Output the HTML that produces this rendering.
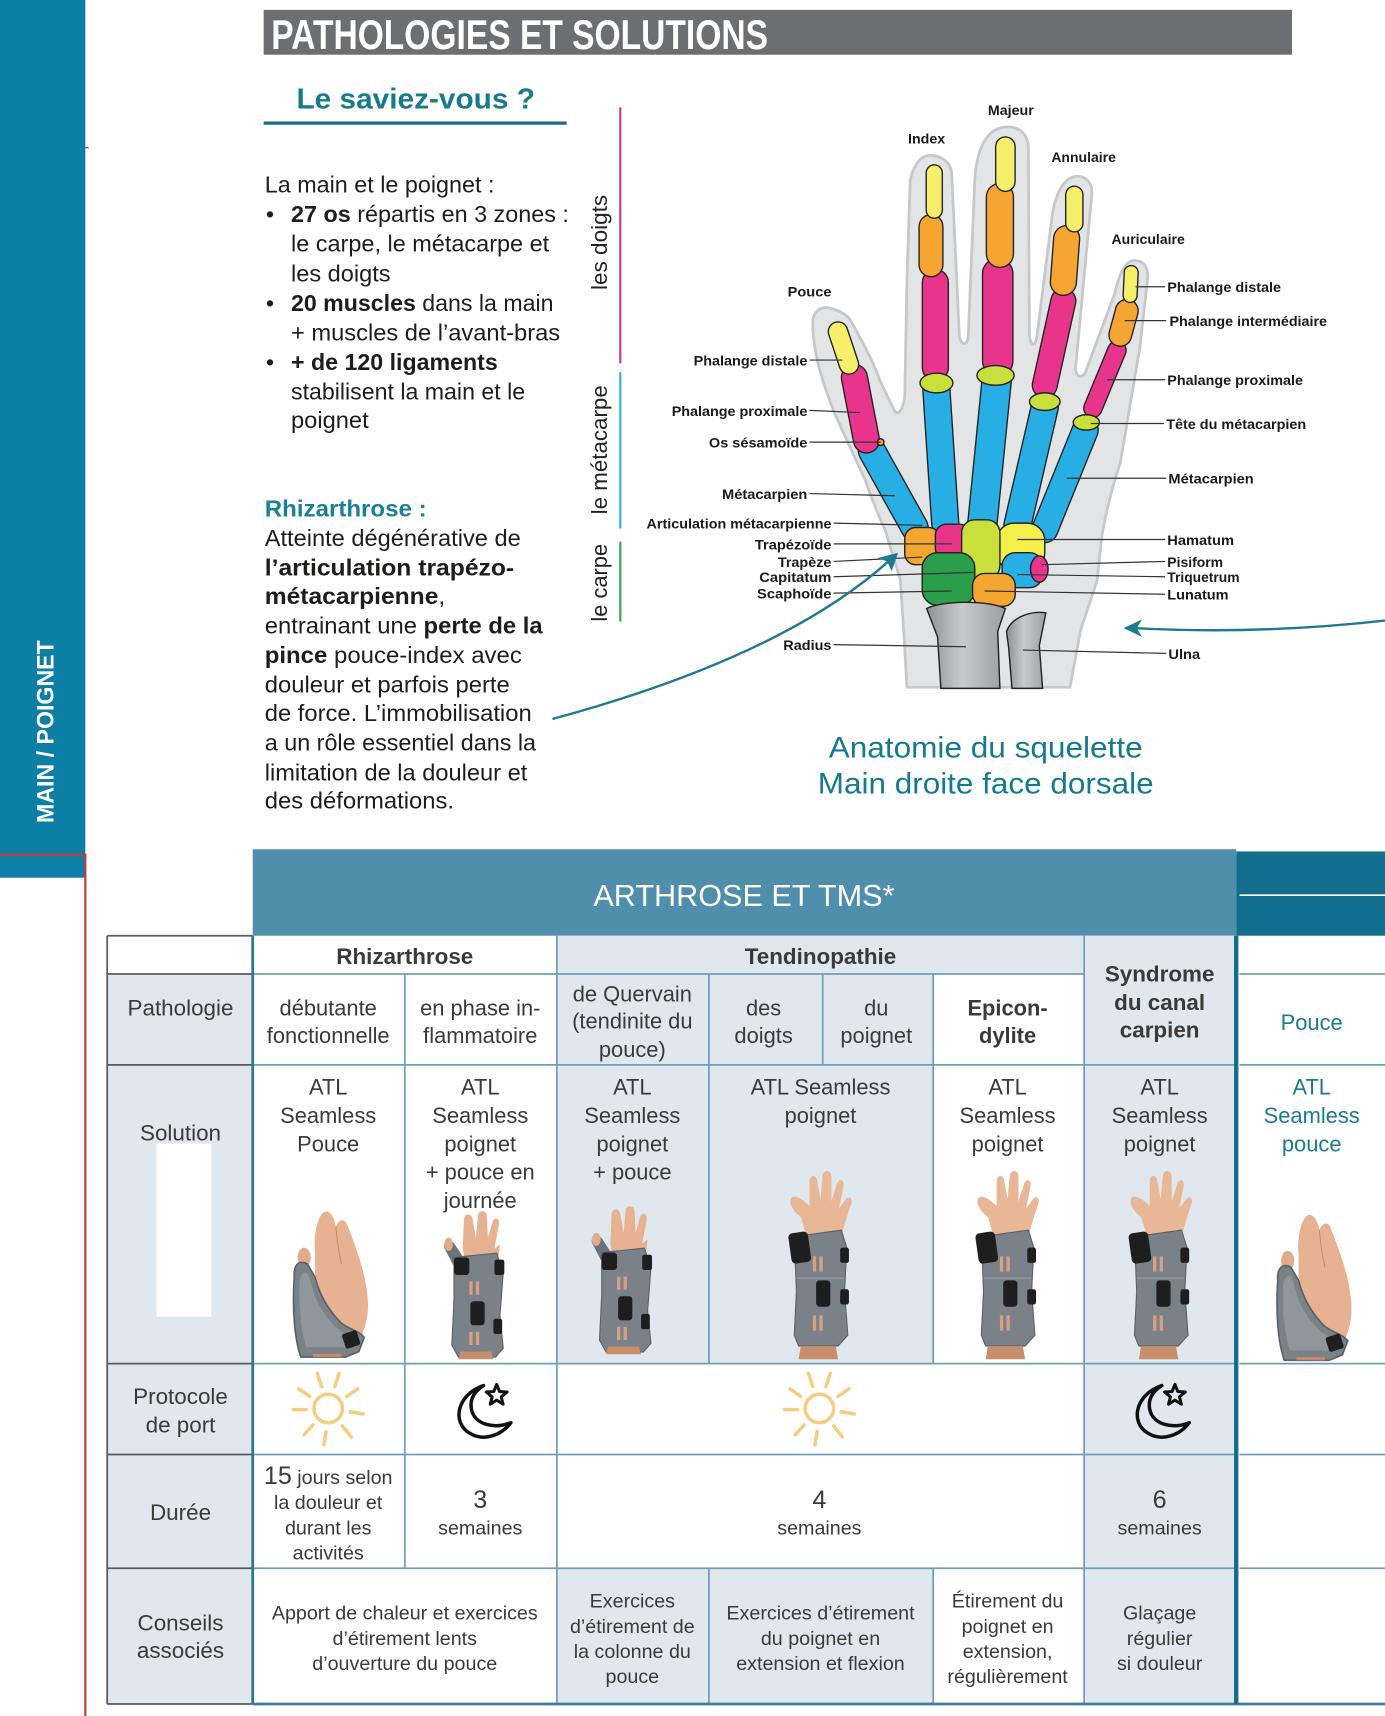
<!DOCTYPE html>
<html><head><meta charset="utf-8"><style>
html,body{margin:0;padding:0;background:#fff;}
svg{display:block;}
</style></head><body>
<svg xmlns="http://www.w3.org/2000/svg" width="1385" height="1716" viewBox="0 0 1266 1568" preserveAspectRatio="none" font-family="'Liberation Sans', Arial, sans-serif">
<defs>
<linearGradient id="bone" x1="0" x2="1" y1="0" y2="0">
<stop offset="0" stop-color="#8d9094"/><stop offset="0.45" stop-color="#c9cacc"/><stop offset="1" stop-color="#9a9da1"/>
</linearGradient>
<symbol id="sun" viewBox="-36 -36 72 72" overflow="visible">
<g stroke="#f5cd82" stroke-width="3.2" stroke-linecap="round" fill="none">
<circle cx="0" cy="0" r="13"/>
<line x1="6" y1="-20" x2="10" y2="-32"/><line x1="-6" y1="-20" x2="-10" y2="-32"/>
<line x1="17" y1="-11" x2="27" y2="-18"/><line x1="-17" y1="-11" x2="-27" y2="-18"/>
<line x1="20" y1="3" x2="32" y2="5"/><line x1="-20" y1="1" x2="-32" y2="1"/>
<line x1="13" y1="16" x2="21" y2="26"/><line x1="-14" y1="15" x2="-22" y2="24"/>
<line x1="-2" y1="21" x2="-4" y2="33"/>
</g>
</symbol>
<symbol id="moon" viewBox="-30 -30 60 60" overflow="visible">
<g stroke="#111" stroke-width="3.2" fill="none" stroke-linejoin="round" stroke-linecap="round">
<path d="M2,-22 C-22,-14 -28,12 -10,22 C2,29 18,24 27,12 C12,18 -6,14 -9,0 C-11,-10 -6,-17 2,-22 Z"/>
<polygon transform="translate(14,-13) scale(1.25)" stroke-width="2.2" points="0,-8 2.06,-2.83 7.61,-2.47 3.33,1.08 4.7,6.47 0,3.5 -4.7,6.47 -3.33,1.08 -7.61,-2.47 -2.06,-2.83"/>
</g>
</symbol>
<symbol id="tb" viewBox="0 0 72 135" overflow="visible">
<path d="M22,40 C20,20 26,2 32,2 C37,2 40,10 41,16 C44,8 50,8 52,16 C60,36 68,58 70,80 C72,100 66,114 60,124 L22,124 Z" fill="#e6b292"/>
<path d="M41,16 C42,30 44,40 46,50" stroke="#c98d6d" stroke-width="1" fill="none"/>
<ellipse cx="12" cy="44" rx="6" ry="9" fill="#e2ab8b"/>
<path d="M3,62 C2,50 8,46 15,50 L22,62 C26,78 34,92 46,104 C54,110 62,111 67,117 L62,130 L50,135 L9,135 C3,118 1,90 3,62 Z" fill="#7a8187" stroke="#596067" stroke-width="1.5"/>
<path d="M8,66 C9,58 13,56 16,60 L19,70 C23,86 32,100 44,110 L56,118 L50,126 L14,126 C9,110 7,90 8,66 Z" fill="#8f969c"/>
<rect x="48" y="112" width="14" height="14" rx="2" fill="#1f1f1f" transform="rotate(-18 55 119)"/>
<rect x="20" y="132" width="26" height="3" fill="#c48a69"/>
</symbol>
<symbol id="wtb" viewBox="0 0 60 135" overflow="visible">
<path d="M18,34 L19,8 C19,1 26,1 27,7 L30,24 L32,3 C33,-2 40,-1 40,4 L41,24 L45,10 C47,4 52,6 51,12 L47,34 L52,30 L50,48 L20,48 Z" fill="#e6b292"/>
<path d="M1,33 C0,26 6,24 10,29 L20,44 L13,56 Z" fill="#6c737a"/>
<ellipse cx="5" cy="30" rx="4" ry="6" fill="#e2ab8b"/>
<path d="M10,42 L49,38 L55,56 L52,95 L55,125 L48,133 L14,133 L8,122 L10,80 Z" fill="#7a8189" stroke="#5a6067" stroke-width="1"/>
<rect x="10" y="42" width="14" height="16" rx="3" fill="#1e1e1e"/>
<rect x="47" y="44" width="9" height="14" rx="2" fill="#1e1e1e"/>
<rect x="24" y="64" width="3" height="12" fill="#d9a07f"/><rect x="30" y="64" width="3" height="12" fill="#d9a07f"/>
<rect x="25" y="82" width="13" height="22" rx="3" fill="#1e1e1e"/>
<rect x="46" y="98" width="8" height="14" rx="2" fill="#1e1e1e"/>
<rect x="24" y="110" width="3" height="12" fill="#d9a07f"/><rect x="30" y="110" width="3" height="12" fill="#d9a07f"/>
<path d="M16,128 L44,128 L46,135 L14,135 Z" fill="#c98f6c"/>
</symbol>
<symbol id="wb" viewBox="0 0 62 172" overflow="visible">
<path d="M20,62 L14,42 C6,36 2,28 6,24 C10,22 16,26 22,32 L22,10 C22,3 28,3 29,9 L32,26 L34,4 C35,-2 42,-1 42,5 L42,28 L47,12 C49,6 54,8 53,14 L49,34 L55,26 C58,22 62,25 60,30 L53,52 L51,66 Z" fill="#e8b796"/>
<path d="M8,60 L51,54 L56,70 L54,110 L57,150 L48,160 L12,160 L8,150 L10,110 Z" fill="#7a8189" stroke="#5a6067" stroke-width="1"/>
<rect x="4" y="56" width="18" height="28" rx="4" fill="#1e1e1e" transform="rotate(-8 13 70)"/>
<rect x="50" y="70" width="8" height="14" rx="2" fill="#1e1e1e"/>
<rect x="25" y="78" width="3" height="14" fill="#d9a07f"/><rect x="31" y="78" width="3" height="14" fill="#d9a07f"/>
<rect x="28" y="100" width="13" height="24" rx="3" fill="#1e1e1e"/>
<rect x="50" y="108" width="8" height="14" rx="2" fill="#1e1e1e"/>
<rect x="25" y="132" width="3" height="14" fill="#d9a07f"/><rect x="31" y="132" width="3" height="14" fill="#d9a07f"/>
<line x1="10" y1="98" x2="54" y2="98" stroke="#8e959c" stroke-width="1.5"/>
<path d="M14,160 L46,160 L48,172 L12,172 Z" fill="#c98f6c"/>
</symbol>
</defs>

<!-- sidebar -->
<rect x="0" y="0" width="78" height="802" fill="#0b7fa6"/>
<path d="M0,781 H78 V1568" stroke="#c43c35" stroke-width="2" fill="none"/>
<line x1="78" y1="135" x2="81" y2="135" stroke="#444" stroke-width="1"/>
<text transform="translate(49,752) rotate(-90)" font-size="22" font-weight="700" fill="#fff" textLength="167" lengthAdjust="spacingAndGlyphs">MAIN / POIGNET</text>

<!-- title -->
<rect x="241" y="9" width="940" height="41" fill="#6d6e71"/>
<text x="248" y="45" font-size="38" font-weight="700" fill="#fff" textLength="454" lengthAdjust="spacingAndGlyphs">PATHOLOGIES ET SOLUTIONS</text>

<text x="271" y="99" font-size="26" font-weight="700" fill="#177a8d" textLength="218" lengthAdjust="spacingAndGlyphs">Le saviez-vous ?</text>
<rect x="241" y="111" width="277" height="3" fill="#1d6f86"/>

<g font-size="21.5" fill="#1d1d1b">
<text x="242" y="176" textLength="210" lengthAdjust="spacingAndGlyphs">La main et le poignet :</text>
<text x="243" y="203">•</text>
<text x="266" y="203" textLength="254" lengthAdjust="spacingAndGlyphs"><tspan font-weight="700">27 os</tspan> répartis en 3 zones :</text>
<text x="266" y="230" textLength="236" lengthAdjust="spacingAndGlyphs">le carpe, le métacarpe et</text>
<text x="266" y="257" textLength="91" lengthAdjust="spacingAndGlyphs">les doigts</text>
<text x="243" y="284">•</text>
<text x="266" y="284" textLength="240" lengthAdjust="spacingAndGlyphs"><tspan font-weight="700">20 muscles</tspan> dans la main</text>
<text x="266" y="311" textLength="246" lengthAdjust="spacingAndGlyphs">+ muscles de l’avant-bras</text>
<text x="243" y="338">•</text>
<text x="266" y="338" font-weight="700" textLength="189" lengthAdjust="spacingAndGlyphs">+ de 120 ligaments</text>
<text x="266" y="365" textLength="214" lengthAdjust="spacingAndGlyphs">stabilisent la main et le</text>
<text x="266" y="391" textLength="71" lengthAdjust="spacingAndGlyphs">poignet</text>

<text x="242" y="472" font-weight="700" fill="#1a7f97" textLength="148" lengthAdjust="spacingAndGlyphs">Rhizarthrose :</text>
<text x="242" y="499" textLength="234" lengthAdjust="spacingAndGlyphs">Atteinte dégénérative de</text>
<text x="242" y="526" font-weight="700" textLength="228" lengthAdjust="spacingAndGlyphs">l’articulation trapézo-</text>
<text x="242" y="552" textLength="165" lengthAdjust="spacingAndGlyphs"><tspan font-weight="700">métacarpienne</tspan>,</text>
<text x="242" y="579" textLength="254" lengthAdjust="spacingAndGlyphs">entrainant une <tspan font-weight="700">perte de la</tspan></text>
<text x="242" y="606" textLength="235" lengthAdjust="spacingAndGlyphs"><tspan font-weight="700">pince</tspan> pouce-index avec</text>
<text x="242" y="633" textLength="224" lengthAdjust="spacingAndGlyphs">douleur et parfois perte</text>
<text x="242" y="659" textLength="244" lengthAdjust="spacingAndGlyphs">de force. L’immobilisation</text>
<text x="242" y="686" textLength="248" lengthAdjust="spacingAndGlyphs">a un rôle essentiel dans la</text>
<text x="242" y="713" textLength="240" lengthAdjust="spacingAndGlyphs">limitation de la douleur et</text>
<text x="242" y="739" textLength="173" lengthAdjust="spacingAndGlyphs">des déformations.</text>
</g>

<!-- vertical zone labels -->
<g font-size="20" fill="#222">
<text transform="translate(555,265) rotate(-90)" textLength="87" lengthAdjust="spacingAndGlyphs">les doigts</text>
<text transform="translate(555,470) rotate(-90)" textLength="118" lengthAdjust="spacingAndGlyphs">le métacarpe</text>
<text transform="translate(555,568) rotate(-90)" textLength="71" lengthAdjust="spacingAndGlyphs">le carpe</text>
</g>
<line x1="567" y1="98" x2="567" y2="332" stroke="#c43d8f" stroke-width="2"/>
<line x1="567" y1="340" x2="567" y2="483" stroke="#3cb4d8" stroke-width="2"/>
<line x1="567" y1="495" x2="567" y2="568" stroke="#3aa55e" stroke-width="2"/>

<!-- hand silhouette -->
<path d="M829,628 L826,576 L823,530 L809,484 C800,465 795,450 791,439 L763,378 C752,350 742,320 743,292 C745,283 750,281 756,281 C766,283 773,287 777,292 C790,315 800,335 804,347 L818,376 C822,380 826,372 827,362 L829,256 L832,164 C836,148 843,142 850,142 C862,142 870,150 870,160 L877,308 C879,316 884,316 885,308 L891,165 C893,130 905,116 921,116 C934,116 940,125 940,135 L941,308 C943,318 947,316 948,306 L962,195 C966,172 975,161 985,161 C993,161 999,168 998,178 L983,338 C985,346 990,346 993,338 L1019,268 C1024,246 1030,238 1037,238 C1046,238 1050,245 1049,255 L1042,317 L1024,423 C1015,450 1008,480 1006,500 L1003,530 L988,575 L978,628 Z" fill="#e3e4e6" stroke="#c6c7c9" stroke-width="2.5"/>

<!-- bones -->
<g stroke-linecap="round" fill="none">
<!-- metacarpals -->
<line x1="797" y1="412" x2="836" y2="482" stroke="#222" stroke-width="26"/><line x1="797" y1="412" x2="836" y2="482" stroke="#27aee4" stroke-width="23.5"/>
<line x1="856" y1="357" x2="864" y2="478" stroke="#222" stroke-width="26"/><line x1="856" y1="357" x2="864" y2="478" stroke="#27aee4" stroke-width="23.5"/>
<line x1="911" y1="348" x2="898" y2="478" stroke="#222" stroke-width="28"/><line x1="911" y1="348" x2="898" y2="478" stroke="#27aee4" stroke-width="25.5"/>
<line x1="955" y1="372" x2="930" y2="480" stroke="#222" stroke-width="26"/><line x1="955" y1="372" x2="930" y2="480" stroke="#27aee4" stroke-width="23.5"/>
<line x1="992" y1="393" x2="955" y2="484" stroke="#222" stroke-width="25"/><line x1="992" y1="393" x2="955" y2="484" stroke="#27aee4" stroke-width="22.5"/>
<!-- proximal phalanges -->
<line x1="781" y1="345" x2="792" y2="402" stroke="#222" stroke-width="25"/><line x1="781" y1="345" x2="792" y2="402" stroke="#e8358b" stroke-width="22.5"/>
<line x1="855" y1="258" x2="855" y2="336" stroke="#222" stroke-width="25"/><line x1="855" y1="258" x2="855" y2="336" stroke="#e8358b" stroke-width="22.5"/>
<line x1="912" y1="250" x2="912" y2="330" stroke="#222" stroke-width="29"/><line x1="912" y1="250" x2="912" y2="330" stroke="#e8358b" stroke-width="26.5"/>
<line x1="972" y1="275" x2="955" y2="352" stroke="#222" stroke-width="24"/><line x1="972" y1="275" x2="955" y2="352" stroke="#e8358b" stroke-width="21.5"/>
<line x1="1021" y1="320" x2="999" y2="373" stroke="#222" stroke-width="18"/><line x1="1021" y1="320" x2="999" y2="373" stroke="#e8358b" stroke-width="15.5"/>
<!-- middle phalanges -->
<line x1="851" y1="207" x2="851" y2="242" stroke="#222" stroke-width="23"/><line x1="851" y1="207" x2="851" y2="242" stroke="#f4a532" stroke-width="20.5"/>
<line x1="914" y1="180" x2="914" y2="232" stroke="#222" stroke-width="26"/><line x1="914" y1="180" x2="914" y2="232" stroke="#f4a532" stroke-width="23.5"/>
<line x1="975" y1="218" x2="972" y2="258" stroke="#222" stroke-width="25"/><line x1="975" y1="218" x2="972" y2="258" stroke="#f4a532" stroke-width="22.5"/>
<line x1="1030" y1="284" x2="1024" y2="306" stroke="#222" stroke-width="22"/><line x1="1030" y1="284" x2="1024" y2="306" stroke="#f4a532" stroke-width="19.5"/>
<!-- distal phalanges -->
<line x1="766" y1="303" x2="776" y2="333" stroke="#222" stroke-width="19"/><line x1="766" y1="303" x2="776" y2="333" stroke="#f5ef6a" stroke-width="16.5"/>
<line x1="854" y1="158" x2="854" y2="192" stroke="#222" stroke-width="16"/><line x1="854" y1="158" x2="854" y2="192" stroke="#f5ef6a" stroke-width="13.5"/>
<line x1="919" y1="134" x2="919" y2="166" stroke="#222" stroke-width="19"/><line x1="919" y1="134" x2="919" y2="166" stroke="#f5ef6a" stroke-width="16.5"/>
<line x1="982" y1="178" x2="982" y2="204" stroke="#222" stroke-width="17"/><line x1="982" y1="178" x2="982" y2="204" stroke="#f5ef6a" stroke-width="14.5"/>
<line x1="1034" y1="249" x2="1033" y2="270" stroke="#222" stroke-width="14"/><line x1="1034" y1="249" x2="1033" y2="270" stroke="#f5ef6a" stroke-width="11.5"/>
</g>
<g stroke="#222" stroke-width="1.3">
<ellipse cx="856" cy="350" rx="15" ry="9" fill="#c8df3c"/>
<ellipse cx="910" cy="343" rx="17" ry="9" fill="#c8df3c"/>
<ellipse cx="955" cy="367" rx="14" ry="8" fill="#c8df3c"/>
<ellipse cx="993" cy="386" rx="12" ry="7" fill="#c8df3c"/>
<circle cx="805" cy="404" r="3" fill="#f4a532"/>
<!-- carpals -->
<rect x="911" y="478" width="44" height="43" rx="16" fill="#f5ef4a"/>
<rect x="916" y="505" width="37" height="32" rx="12" fill="#27aee4"/>
<ellipse cx="950" cy="520" rx="8" ry="12" fill="#e8358b"/>
<rect x="827" y="482" width="32" height="34" rx="10" fill="#f4a532"/>
<rect x="855" y="479" width="32" height="32" rx="10" fill="#e8358b"/>
<rect x="879" y="475" width="35" height="54" rx="12" fill="#c8df3c"/>
<rect x="843" y="505" width="48" height="48" rx="14" fill="#2a9e4a"/>
<rect x="889" y="524" width="39" height="30" rx="11" fill="#f4a532"/>
<!-- radius ulna -->
<path d="M847,556 C860,549 902,548 919,556 L912,577 L914,629 L860,629 L857,582 Z" fill="url(#bone)"/>
<path d="M920,577 C925,563 944,558 956,560 L950,590 L953,629 L925,629 L922,592 Z" fill="url(#bone)"/>
</g>

<!-- leader lines -->
<g stroke="#333" stroke-width="1.1">
<line x1="740" y1="329" x2="770" y2="329"/><line x1="740" y1="375" x2="786" y2="377"/>
<line x1="740" y1="404" x2="805" y2="404"/><line x1="740" y1="451" x2="818" y2="453"/>
<line x1="762" y1="478" x2="843" y2="480"/><line x1="762" y1="497" x2="870" y2="497"/>
<line x1="762" y1="513" x2="843" y2="509"/><line x1="762" y1="527" x2="890" y2="523"/>
<line x1="762" y1="542" x2="870" y2="540"/><line x1="762" y1="589" x2="883" y2="591"/>
<line x1="1038" y1="262" x2="1065" y2="262"/><line x1="1028" y1="293" x2="1066" y2="293"/>
<line x1="1012" y1="347" x2="1065" y2="347"/><line x1="997" y1="387" x2="1064" y2="387"/>
<line x1="975" y1="437" x2="1066" y2="437"/><line x1="930" y1="493" x2="1065" y2="493"/>
<line x1="952" y1="516" x2="1065" y2="513"/><line x1="930" y1="525" x2="1065" y2="527"/>
<line x1="900" y1="540" x2="1065" y2="543"/><line x1="935" y1="594" x2="1066" y2="597"/>
</g>
<g font-size="13" font-weight="700" fill="#1a1a1a" font-family="'Liberation Sans Narrow','Liberation Sans',Arial,sans-serif">
<text x="903" y="105" textLength="42" lengthAdjust="spacingAndGlyphs">Majeur</text>
<text x="830" y="131" textLength="34" lengthAdjust="spacingAndGlyphs">Index</text>
<text x="961" y="148" textLength="59" lengthAdjust="spacingAndGlyphs">Annulaire</text>
<text x="1016" y="223" textLength="67" lengthAdjust="spacingAndGlyphs">Auriculaire</text>
<text x="720" y="271" textLength="40" lengthAdjust="spacingAndGlyphs">Pouce</text>
<text x="1067" y="267" textLength="104" lengthAdjust="spacingAndGlyphs">Phalange distale</text>
<text x="1069" y="298" textLength="144" lengthAdjust="spacingAndGlyphs">Phalange intermédiaire</text>
<text x="1067" y="352" textLength="124" lengthAdjust="spacingAndGlyphs">Phalange proximale</text>
<text x="1066" y="392" textLength="128" lengthAdjust="spacingAndGlyphs">Tête du métacarpien</text>
<text x="1068" y="442" textLength="78" lengthAdjust="spacingAndGlyphs">Métacarpien</text>
<text x="1067" y="498" textLength="61" lengthAdjust="spacingAndGlyphs">Hamatum</text>
<text x="1067" y="518" textLength="51" lengthAdjust="spacingAndGlyphs">Pisiform</text>
<text x="1067" y="532" textLength="66" lengthAdjust="spacingAndGlyphs">Triquetrum</text>
<text x="1067" y="548" textLength="56" lengthAdjust="spacingAndGlyphs">Lunatum</text>
<text x="1068" y="602" textLength="29" lengthAdjust="spacingAndGlyphs">Ulna</text>
<text x="634" y="334" textLength="104" lengthAdjust="spacingAndGlyphs">Phalange distale</text>
<text x="614" y="380" textLength="124" lengthAdjust="spacingAndGlyphs">Phalange proximale</text>
<text x="648" y="409" textLength="90" lengthAdjust="spacingAndGlyphs">Os sésamoïde</text>
<text x="660" y="456" textLength="78" lengthAdjust="spacingAndGlyphs">Métacarpien</text>
<text x="591" y="483" textLength="169" lengthAdjust="spacingAndGlyphs">Articulation métacarpienne</text>
<text x="690" y="502" textLength="70" lengthAdjust="spacingAndGlyphs">Trapézoïde</text>
<text x="711" y="518" textLength="49" lengthAdjust="spacingAndGlyphs">Trapèze</text>
<text x="694" y="532" textLength="66" lengthAdjust="spacingAndGlyphs">Capitatum</text>
<text x="692" y="547" textLength="68" lengthAdjust="spacingAndGlyphs">Scaphoïde</text>
<text x="716" y="594" textLength="44" lengthAdjust="spacingAndGlyphs">Radius</text>
</g>

<!-- arrows -->
<path d="M505,657 Q715,600 812,513" stroke="#1e7a90" stroke-width="2.2" fill="none"/>
<polygon points="821,505 815,522 811,513 802,510" fill="#1e7a90"/>
<path d="M1266,567 Q1150,580 1038,574" stroke="#1e7a90" stroke-width="2.2" fill="none"/>
<polygon points="1027,574 1044,566 1039,574 1044,582" fill="#1e7a90"/>

<text x="901" y="692" font-size="27" fill="#167a8e" text-anchor="middle" textLength="287" lengthAdjust="spacingAndGlyphs">Anatomie du squelette</text>
<text x="901" y="725" font-size="27" fill="#167a8e" text-anchor="middle" textLength="307" lengthAdjust="spacingAndGlyphs">Main droite face dorsale</text>

<!-- TABLE -->
<rect x="231" y="776" width="899" height="79" fill="#4f8fab"/>
<rect x="1130" y="778" width="136" height="77" fill="#136d8c"/>
<line x1="1133" y1="818" x2="1266" y2="818" stroke="#fff" stroke-width="1.5"/>
<text x="680" y="828" font-size="28" fill="#fff" text-anchor="middle">ARTHROSE ET TMS*</text>

<g fill="#e1e7ee">
<rect x="98" y="890" width="133" height="667"/>
<rect x="509" y="855" width="482" height="35"/>
<rect x="991" y="855" width="139" height="702"/>
<rect x="509" y="890" width="344" height="83"/>
<rect x="509" y="973" width="344" height="273"/>
<rect x="509" y="1433" width="344" height="124"/>
</g>
<rect x="991" y="1246" width="139" height="0" fill="none"/>
<!-- white parts inside light areas -->
<g fill="#fff">
<rect x="509" y="1246" width="482" height="187"/>
<rect x="143" y="1045" width="50" height="158"/>
</g>

<!-- teal grid lines -->
<g stroke="#6f9fb6" stroke-width="1.6">
<line x1="231" y1="890" x2="991" y2="890"/>
<line x1="231" y1="973" x2="1130" y2="973"/>
<line x1="231" y1="1246" x2="1130" y2="1246"/>
<line x1="231" y1="1329" x2="1130" y2="1329"/>
<line x1="231" y1="1433" x2="1130" y2="1433"/>
<line x1="1133" y1="890" x2="1266" y2="890"/>
<line x1="1133" y1="973" x2="1266" y2="973"/>
<line x1="1133" y1="1246" x2="1266" y2="1246"/>
<line x1="1133" y1="1329" x2="1266" y2="1329"/>
<line x1="1133" y1="1433" x2="1266" y2="1433"/>
<line x1="370" y1="890" x2="370" y2="1433"/>
<line x1="509" y1="855" x2="509" y2="1557"/>
<line x1="648" y1="890" x2="648" y2="1246"/>
<line x1="648" y1="1433" x2="648" y2="1557"/>
<line x1="752" y1="890" x2="752" y2="973"/>
<line x1="853" y1="890" x2="853" y2="1246"/>
<line x1="853" y1="1433" x2="853" y2="1557"/>
<line x1="991" y1="855" x2="991" y2="1557"/>
</g>
<line x1="231" y1="1557" x2="1266" y2="1557" stroke="#3f7f98" stroke-width="2.5"/>
<!-- label column borders -->
<g stroke="#5a5a5a" stroke-width="1.6">
<line x1="98" y1="855" x2="231" y2="855"/>
<line x1="98" y1="890" x2="231" y2="890"/>
<line x1="98" y1="973" x2="231" y2="973"/>
<line x1="98" y1="1246" x2="231" y2="1246"/>
<line x1="98" y1="1329" x2="231" y2="1329"/>
<line x1="98" y1="1433" x2="231" y2="1433"/>
<line x1="98" y1="1557" x2="231" y2="1557"/>
<line x1="98" y1="855" x2="98" y2="1557"/>
</g>
<line x1="231" y1="855" x2="231" y2="1557" stroke="#2b7690" stroke-width="2.5"/>
<line x1="1130" y1="855" x2="1130" y2="1557" stroke="#136d8b" stroke-width="4"/>

<g font-size="20" fill="#3a3a3a" text-anchor="middle">
<text x="370" y="881" font-weight="700" font-size="20.5">Rhizarthrose</text>
<text x="750" y="881" font-weight="700" font-size="20.5">Tendinopathie</text>
<g font-weight="700" font-size="20.5"><text x="1060" y="897">Syndrome</text><text x="1060" y="923">du canal</text><text x="1060" y="948">carpien</text></g>
<text x="165" y="928" font-size="20.5">Pathologie</text>
<text x="300" y="928">débutante</text><text x="300" y="953">fonctionnelle</text>
<text x="439" y="928">en phase in-</text><text x="439" y="953">flammatoire</text>
<text x="578" y="915">de Quervain</text><text x="578" y="940">(tendinite du</text><text x="578" y="966">pouce)</text>
<text x="698" y="928">des</text><text x="698" y="953">doigts</text>
<text x="801" y="928">du</text><text x="801" y="953">poignet</text>
<text x="921" y="928" font-weight="700">Epicon-</text><text x="921" y="953" font-weight="700">dylite</text>
<text x="1199" y="941" fill="#1a7a92">Pouce</text>

<text x="165" y="1042" font-size="20.5">Solution</text>
<text x="300" y="1000">ATL</text><text x="300" y="1026">Seamless</text><text x="300" y="1052">Pouce</text>
<text x="439" y="1000">ATL</text><text x="439" y="1026">Seamless</text><text x="439" y="1052">poignet</text><text x="439" y="1078">+ pouce en</text><text x="439" y="1104">journée</text>
<text x="578" y="1000">ATL</text><text x="578" y="1026">Seamless</text><text x="578" y="1052">poignet</text><text x="578" y="1078">+ pouce</text>
<text x="750" y="1000">ATL Seamless</text><text x="750" y="1026">poignet</text>
<text x="921" y="1000">ATL</text><text x="921" y="1026">Seamless</text><text x="921" y="1052">poignet</text>
<text x="1060" y="1000">ATL</text><text x="1060" y="1026">Seamless</text><text x="1060" y="1052">poignet</text>
<g fill="#1a7a92"><text x="1199" y="1000">ATL</text><text x="1199" y="1026">Seamless</text><text x="1199" y="1052">pouce</text></g>

<text x="165" y="1283" font-size="20.5">Protocole</text><text x="165" y="1309" font-size="20.5">de port</text>

<text x="165" y="1389" font-size="20.5">Durée</text>
<text x="300" y="1356" font-size="18"><tspan font-size="23">15</tspan> jours selon</text>
<text x="300" y="1379" font-size="18">la douleur et</text>
<text x="300" y="1402" font-size="18">durant les</text>
<text x="300" y="1425" font-size="18">activités</text>
<text x="439" y="1378" font-size="23">3</text><text x="439" y="1402" font-size="18">semaines</text>
<text x="749" y="1378" font-size="23">4</text><text x="749" y="1402" font-size="18">semaines</text>
<text x="1060" y="1378" font-size="23">6</text><text x="1060" y="1402" font-size="18">semaines</text>

<text x="165" y="1490" font-size="20.5">Conseils</text><text x="165" y="1515" font-size="20.5">associés</text>
<g font-size="18">
<text x="370" y="1480">Apport de chaleur et exercices</text><text x="370" y="1503">d’étirement lents</text><text x="370" y="1526">d’ouverture du pouce</text>
<text x="578" y="1469">Exercices</text><text x="578" y="1492">d’étirement de</text><text x="578" y="1515">la colonne du</text><text x="578" y="1538">pouce</text>
<text x="750" y="1480">Exercices d’étirement</text><text x="750" y="1503">du poignet en</text><text x="750" y="1526">extension et flexion</text>
<text x="921" y="1469">Étirement du</text><text x="921" y="1492">poignet en</text><text x="921" y="1515">extension,</text><text x="921" y="1538">régulièrement</text>
<text x="1060" y="1480">Glaçage</text><text x="1060" y="1503">régulier</text><text x="1060" y="1526">si douleur</text>
</g>
</g>

<!-- brace pictures -->
<use href="#tb" x="266" y="1105" width="72" height="135"/>
<use href="#wtb" x="405" y="1107" width="60" height="135"/>
<use href="#wtb" x="540" y="1100" width="60" height="140"/>
<use href="#wb" x="718" y="1070" width="62" height="172"/>
<use href="#wb" x="889" y="1070" width="62" height="172"/>
<use href="#wb" x="1029" y="1070" width="62" height="172"/>
<use href="#tb" x="1165" y="1108" width="72" height="135"/>

<!-- icons -->
<use href="#sun" x="264" y="1251" width="72" height="72"/>
<use href="#sun" x="713" y="1251" width="72" height="72"/>
<use href="#moon" x="410" y="1258" width="60" height="60"/>
<use href="#moon" x="1030" y="1258" width="60" height="60"/>
</svg>
</body></html>
